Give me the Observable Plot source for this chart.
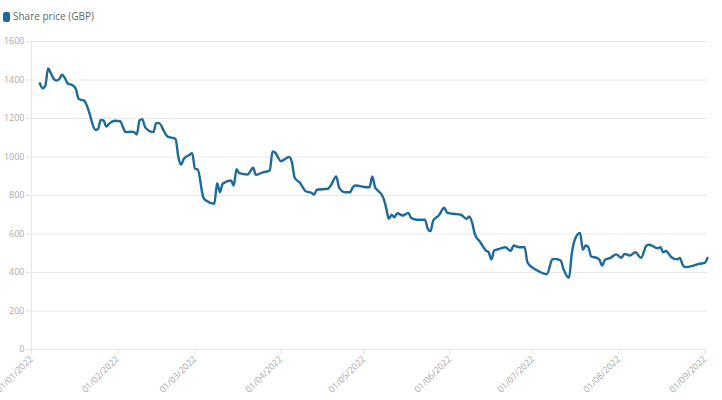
<!DOCTYPE html>
<html><head><meta charset="utf-8">
<script src="https://cdn.jsdelivr.net/npm/d3@7"></script>
<script src="https://cdn.jsdelivr.net/npm/@observablehq/plot@0.6"></script>
<style>
body{margin:0;background:#fff;font-family:"Open Sans",sans-serif;}
#legend{height:30px;position:relative;}
#legend .sw{position:absolute;left:3px;top:12px;width:7px;height:10px;border-radius:2px;background:#1d6a99;}
#legend .lbl{position:absolute;left:13px;top:9px;font-size:10px;color:#666;line-height:14px;}
#chart svg{display:block;}
</style></head><body>
<div id="legend"><span class="sw"></span><span class="lbl" id="lbl"></span></div>
<div id="chart"></div>
<script>
const seriesName = "Share price (GBP)";
const dates = [
"2022-01-04","2022-01-05","2022-01-06","2022-01-07","2022-01-08","2022-01-09","2022-01-10","2022-01-11","2022-01-12","2022-01-13",
"2022-01-14","2022-01-16","2022-01-17","2022-01-18","2022-01-19","2022-01-20","2022-01-22","2022-01-23","2022-01-24","2022-01-25",
"2022-01-26","2022-01-27","2022-01-28","2022-01-29","2022-01-31",
"2022-02-02","2022-02-03","2022-02-04","2022-02-06","2022-02-07","2022-02-08","2022-02-09","2022-02-10","2022-02-11","2022-02-14",
"2022-02-15","2022-02-16","2022-02-18","2022-02-19","2022-02-22","2022-02-23","2022-02-24","2022-02-25","2022-02-27","2022-02-28",
"2022-03-01","2022-03-02","2022-03-04","2022-03-05","2022-03-08","2022-03-09","2022-03-10","2022-03-11","2022-03-14","2022-03-15",
"2022-03-16","2022-03-17","2022-03-20","2022-03-22","2022-03-23","2022-03-25","2022-03-28","2022-03-29","2022-03-30",
"2022-04-01","2022-04-02","2022-04-04","2022-04-05","2022-04-06","2022-04-08","2022-04-10","2022-04-12","2022-04-13","2022-04-14",
"2022-04-18","2022-04-19","2022-04-21","2022-04-22","2022-04-24","2022-04-26","2022-04-27","2022-04-28",
"2022-05-02","2022-05-03","2022-05-04","2022-05-05","2022-05-06","2022-05-08","2022-05-09","2022-05-10","2022-05-11","2022-05-12",
"2022-05-13","2022-05-15","2022-05-17","2022-05-18","2022-05-20","2022-05-23","2022-05-24","2022-05-25","2022-05-26","2022-05-28",
"2022-05-30","2022-05-31",
"2022-06-02","2022-06-05","2022-06-07","2022-06-08","2022-06-09","2022-06-10","2022-06-12","2022-06-14","2022-06-15","2022-06-16",
"2022-06-17","2022-06-19","2022-06-21","2022-06-23","2022-06-24","2022-06-26","2022-06-28","2022-06-29",
"2022-07-01","2022-07-03","2022-07-06","2022-07-08","2022-07-09","2022-07-11","2022-07-12","2022-07-14","2022-07-15","2022-07-16",
"2022-07-18","2022-07-19","2022-07-20","2022-07-21","2022-07-22","2022-07-24","2022-07-25","2022-07-26","2022-07-27","2022-07-29",
"2022-07-31",
"2022-08-02","2022-08-03","2022-08-05","2022-08-07","2022-08-09","2022-08-11","2022-08-12","2022-08-15","2022-08-16","2022-08-17",
"2022-08-18","2022-08-20","2022-08-22","2022-08-23","2022-08-24","2022-08-25","2022-08-28","2022-08-30",
"2022-09-01","2022-09-02"
];
const prices = [
1383,1357,1371,1460,1435,1406,1397,1404,1427,1411,
1383,1371,1354,1302,1297,1293,1224,1172,1141,1146,
1193,1190,1158,1172,1188,1186,1155,1129,1131,1129,
1117,1190,1197,1155,1129,1176,1176,1129,1107,1094,
1000,961,991,1011,1020,939,935,791,774,757,
864,817,861,878,852,937,916,909,944,907,
918,930,1029,1022,978,985,1000,973,892,864,
822,814,805,830,835,852,899,843,817,817,
843,852,843,843,899,843,826,788,736,679,
700,687,708,696,710,684,674,674,628,615,
670,696,736,711,705,700,679,691,661,601,
557,514,505,468,514,523,531,512,540,531,
531,453,424,407,391,468,471,462,419,372,
497,566,606,518,540,531,483,476,466,436,
466,476,494,476,497,488,505,476,540,544,
526,531,505,512,479,468,476,441,428,436,
445,450,476
];
const yTicks = [0,200,400,600,800,1000,1200,1400,1600];
const xTickLabels = ["01/01/2022","01/02/2022","01/03/2022","01/04/2022","01/05/2022","01/06/2022","01/07/2022","01/08/2022","01/09/2022"];

document.getElementById("lbl").textContent = seriesName;
const parseDmy = d3.utcParse("%d/%m/%Y");
const xTicks = xTickLabels.map(parseDmy);
const data = dates.map((d, i) => ({date: new Date(d + "T00:00:00Z"), price: prices[i]}));
const xStart = xTicks[0];
const xEnd = new Date("2022-09-02T00:00:00Z");

const chart = Plot.plot({
  width: 722, height: 370,
  marginTop: 11, marginBottom: 51, marginLeft: 31, marginRight: 15,
  style: {fontFamily: "'Open Sans', sans-serif", fontSize: "9px", background: "#fff", overflow: "visible"},
  x: {type: "utc", domain: [xStart, xEnd], label: null},
  y: {domain: [0, 1600], label: null},
  marks: [
    Plot.gridY(yTicks, {stroke: "#e8e8e8", strokeOpacity: 1}),
    Plot.ruleX([xStart], {stroke: "#e8e8e8"}),
    Plot.axisY(yTicks, {tickSize: 5, tickPadding: 2, stroke: "#e3e3e3", fill: "#aaa", label: null,
      tickFormat: d => String(d)}),
    Plot.axisX(xTicks, {tickSize: 5, tickPadding: 3, tickRotate: -45, stroke: "#e3e3e3", fill: "#aaa", label: null,
      tickFormat: d3.utcFormat("%d/%m/%Y")}),
    Plot.lineY(data, {x: "date", y: "price", stroke: "#1d6a99", strokeWidth: 2.4, curve: "monotone-x"})
  ]
});
document.getElementById("chart").appendChild(chart);
</script>
</body></html>
